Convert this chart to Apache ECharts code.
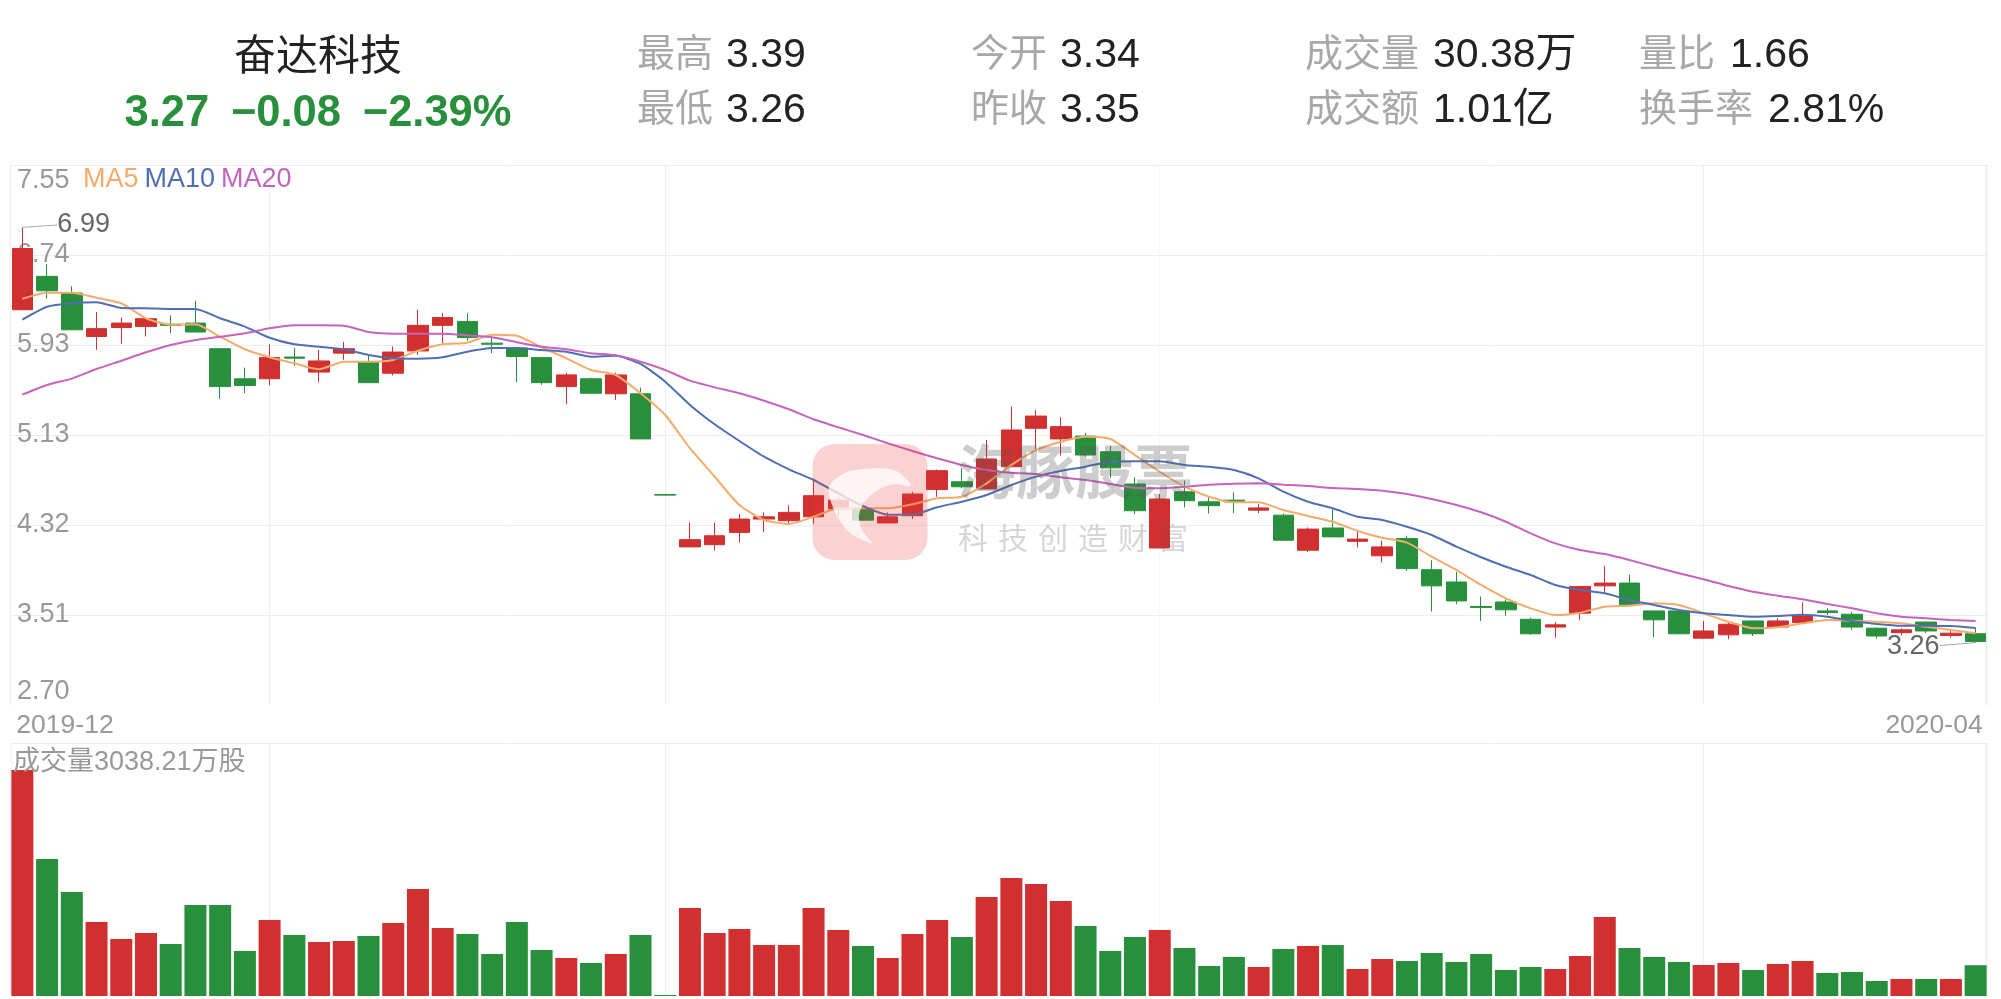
<!DOCTYPE html>
<html><head><meta charset="utf-8">
<style>html,body{margin:0;padding:0;background:#fff}#c{width:2001px;height:999px}</style>
<script src="https://cdn.jsdelivr.net/npm/echarts@6/dist/echarts.min.js"></script>
</head><body><div id="c"></div>
<script>
const categories=["2019-12-18","2019-12-19","2019-12-20","2019-12-23","2019-12-24","2019-12-25","2019-12-26","2019-12-27","2019-12-30","2019-12-31",
"2020-01-02","2020-01-03","2020-01-06","2020-01-07","2020-01-08","2020-01-09","2020-01-10","2020-01-13","2020-01-14","2020-01-15","2020-01-16","2020-01-17","2020-01-20","2020-01-21","2020-01-22","2020-01-23",
"2020-02-03","2020-02-04","2020-02-05","2020-02-06","2020-02-07","2020-02-10","2020-02-11","2020-02-12","2020-02-13","2020-02-14","2020-02-17","2020-02-18","2020-02-19","2020-02-20","2020-02-21","2020-02-24","2020-02-25","2020-02-26","2020-02-27","2020-02-28",
"2020-03-02","2020-03-03","2020-03-04","2020-03-05","2020-03-06","2020-03-09","2020-03-10","2020-03-11","2020-03-12","2020-03-13","2020-03-16","2020-03-17","2020-03-18","2020-03-19","2020-03-20","2020-03-23","2020-03-24","2020-03-25","2020-03-26","2020-03-27","2020-03-30","2020-03-31",
"2020-04-01","2020-04-02","2020-04-03","2020-04-07","2020-04-08","2020-04-09","2020-04-10","2020-04-13","2020-04-14","2020-04-15","2020-04-16","2020-04-17"];
const opens=[6.25,6.55,6.40,6.01,6.09,6.10,6.12,6.13,5.90,5.63,5.63,5.825,5.69,5.86,5.78,5.68,5.88,6.11,6.145,5.95,5.905,5.82,5.56,5.63,5.495,5.495,4.59,4.12,4.14,4.25,4.37,4.355,4.39,4.46,4.46,4.335,4.40,4.635,4.705,4.64,4.84,5.185,5.09,5.115,4.975,4.685,4.11,4.615,4.525,4.54,4.45,4.405,4.09,4.29,4.17,4.04,4.195,3.915,3.805,3.585,3.625,3.47,3.40,3.525,3.77,3.795,3.545,3.545,3.30,3.33,3.455,3.40,3.44,3.545,3.515,3.39,3.35,3.445,3.325,3.34];
const closes=[6.80,6.42,6.07,6.08,6.13,6.17,6.11,6.05,5.56,5.57,5.82,5.815,5.79,5.90,5.595,5.87,6.11,6.18,6.00,5.94,5.83,5.595,5.665,5.50,5.665,5.09,4.585,4.185,4.22,4.37,4.39,4.43,4.58,4.54,4.36,4.39,4.595,4.805,4.66,4.91,5.17,5.295,5.20,4.945,4.83,4.445,4.55,4.535,4.49,4.525,4.47,4.18,4.28,4.21,4.19,4.12,3.925,3.77,3.635,3.575,3.555,3.34,3.42,3.765,3.795,3.60,3.465,3.34,3.365,3.425,3.34,3.455,3.50,3.53,3.40,3.32,3.375,3.365,3.345,3.27];
const lows=[6.25,6.35,6.07,5.89,5.945,6.01,6.04,6.05,5.45,5.50,5.57,5.745,5.60,5.80,5.595,5.66,5.845,5.95,5.97,5.86,5.60,5.575,5.40,5.50,5.44,5.09,4.585,4.12,4.09,4.16,4.255,4.335,4.325,4.40,4.36,4.335,4.37,4.57,4.645,4.64,4.84,5.00,4.94,4.93,4.74,4.415,4.11,4.475,4.42,4.425,4.425,4.175,4.075,4.21,4.115,3.98,3.905,3.54,3.605,3.455,3.50,3.33,3.305,3.465,3.71,3.60,3.31,3.335,3.295,3.29,3.32,3.40,3.44,3.51,3.375,3.295,3.325,3.345,3.305,3.26];
const highs=[6.99,6.66,6.46,6.23,6.18,6.17,6.20,6.33,5.90,5.73,5.94,5.91,5.89,5.96,5.845,5.92,6.25,6.22,6.22,6.01,5.91,5.82,5.685,5.64,5.685,5.55,4.59,4.34,4.335,4.415,4.43,4.495,4.735,4.565,4.525,4.43,4.615,4.815,4.825,5.08,5.38,5.35,5.285,5.145,5.025,4.745,4.595,4.715,4.57,4.61,4.505,4.42,4.295,4.47,4.265,4.175,4.22,4.00,3.895,3.675,3.65,3.485,3.445,3.77,3.95,3.87,3.545,3.55,3.455,3.44,3.455,3.48,3.62,3.57,3.535,3.395,3.39,3.45,3.365,3.39];
const ma5=[6.349,6.403,6.403,6.358,6.308,6.173,6.116,6.119,6.008,5.895,5.823,5.769,5.715,5.783,5.783,5.799,5.882,5.940,5.954,6.026,6.017,5.913,5.814,5.709,5.664,5.500,5.305,5.006,4.751,4.496,4.362,4.326,4.391,4.467,4.467,4.467,4.503,4.557,4.571,4.691,4.856,4.990,5.065,5.110,5.089,4.945,4.795,4.661,4.571,4.521,4.521,4.451,4.398,4.346,4.263,4.203,4.158,4.032,3.913,3.778,3.658,3.569,3.508,3.529,3.583,3.592,3.613,3.598,3.524,3.448,3.389,3.398,3.434,3.463,3.457,3.448,3.434,3.403,3.374,3.344];
const ma10=[6.161,6.277,6.308,6.317,6.266,6.263,6.257,6.257,6.173,6.098,5.999,5.940,5.918,5.895,5.844,5.814,5.810,5.823,5.873,5.906,5.906,5.888,5.873,5.828,5.837,5.763,5.604,5.395,5.221,5.071,4.930,4.817,4.721,4.601,4.487,4.409,4.409,4.476,4.526,4.586,4.676,4.751,4.802,4.840,4.885,4.889,4.889,4.856,4.840,4.811,4.736,4.616,4.526,4.467,4.391,4.362,4.301,4.227,4.122,4.027,3.942,3.868,3.778,3.733,3.703,3.643,3.598,3.553,3.524,3.508,3.493,3.499,3.511,3.493,3.454,3.428,3.412,3.412,3.410,3.392];
const ma20=[5.487,5.574,5.631,5.718,5.792,5.868,5.933,5.978,6.008,6.038,6.083,6.110,6.110,6.107,6.050,6.035,6.035,6.035,6.021,6.003,5.958,5.918,5.895,5.859,5.841,5.783,5.709,5.613,5.553,5.500,5.433,5.356,5.266,5.194,5.125,5.051,4.981,4.916,4.856,4.811,4.786,4.775,4.745,4.721,4.685,4.652,4.646,4.661,4.679,4.688,4.691,4.679,4.667,4.649,4.640,4.625,4.595,4.550,4.496,4.431,4.346,4.242,4.152,4.092,4.056,4.002,3.942,3.883,3.829,3.769,3.718,3.682,3.649,3.607,3.569,3.524,3.493,3.479,3.463,3.454];
const volumes=[22333,13538,10277,7313,5633,6226,5139,8993,8993,4447,7510,6028,5336,5435,5929,7214,10574,6720,6127,4150,7313,4546,3755,3261,4150,6028,99,8696,6226,6621,5040,5040,8696,6522,4941,3755,6127,7510,5830,9783,11661,11068,9388,6917,4447,5830,6522,4743,2965,3854,2866,4645,4941,5040,2668,3656,3459,4249,3360,4150,2569,2866,2668,3953,7807,4743,3854,3360,3063,3261,2569,3162,3459,2273,2372,1482,1680,1680,1680,3038.21];
const priceTicks=[2.7,3.5083,4.3167,5.125,5.9333,6.7417,7.55];
const stockName="奋达科技";
const quote="3.27\u2002−0.08\u2002−2.39%";
const statLabels=["最高","最低","今开","昨收","成交量","成交额","量比","换手率"];
const statValues=["3.39","3.26","3.34","3.35","30.38万","1.01亿","1.66","2.81%"];
const volumeTitle="成交量3038.21万股";
const RED='#d13030',GREEN='#288f3c';
const MA_COLORS={MA5:'#f5ab6b',MA10:'#4f6fb5',MA20:'#c563bd'};
const FONT='"Liberation Sans","Noto Sans CJK SC",sans-serif';
const GRIDLINE='#eeeeee';

const statLabelX=[637,637,971,971,1305,1305,1639,1639];
const statValueX=[726,726,1060,1060,1433,1433,1730,1768];
const statY=[56,111,56,111,56,111,56,111];
const graphics=[];
function txt(x,y,text,size,color,extra){graphics.push({type:'text',x,y,z:50,silent:true,style:Object.assign({text,fill:color,font:size+'px '+FONT,textAlign:'left',textVerticalAlign:'middle'},extra||{})});}
txt(318,58,stockName,42,'#222',{textAlign:'center'});
graphics.push({type:'text',x:318,y:114,z:50,silent:true,style:{text:quote,fill:GREEN,font:'bold 43.5px '+FONT,textAlign:'center',textVerticalAlign:'middle'}});
statLabels.forEach((t,i)=>{txt(statLabelX[i],statY[i],t,38,'#a8a8a8');txt(statValueX[i],statY[i],statValues[i],41,'#222');});
txt(13,763,volumeTitle,27,'#999');
// frame lines
graphics.push({type:'line',z:1,silent:true,shape:{x1:1986.5,y1:165,x2:1986.5,y2:705},style:{stroke:GRIDLINE,lineWidth:2}});
graphics.push({type:'line',z:1,silent:true,shape:{x1:1986.5,y1:743,x2:1986.5,y2:996},style:{stroke:GRIDLINE,lineWidth:2}});
graphics.push({type:'line',z:1,silent:true,shape:{x1:11,y1:743,x2:11,y2:996},style:{stroke:GRIDLINE,lineWidth:1}});
// watermark
graphics.push({type:'rect',z:40,silent:true,shape:{x:812.5,y:444,width:115,height:116,r:22},style:{fill:'rgba(235,60,60,0.23)'}});
graphics.push({type:'polygon',z:41,silent:true,shape:{points:[[829,487],[845,473],[865,469],[890,469],[901,474],[911,486],[895,484],[878,490],[866,500],[859,515],[862,530],[872,543],[850,533],[835,512]],smooth:0.3},style:{fill:'rgba(255,255,255,0.75)'}});
graphics.push({type:'text',x:1075,y:478,z:41,silent:true,style:{text:'海豚股票',fill:'rgba(90,90,90,0.3)',font:'bold 59px '+FONT,textAlign:'center',textVerticalAlign:'middle'}});
graphics.push({type:'text',x:1073,y:541,z:41,silent:true,style:{text:'科\u2004技\u2004创\u2004造\u2004财\u2004富',fill:'rgba(90,90,90,0.25)',font:'30px '+FONT,textAlign:'center',textVerticalAlign:'middle'}});

const monthStart=i=>i>0&&categories[i].slice(0,7)!==categories[i-1].slice(0,7);
const splitX={show:true,alignWithLabel:true,interval:(i)=>monthStart(i),lineStyle:{color:[GRIDLINE,GRIDLINE,'#f8f8f8',GRIDLINE],width:1}};
const last=categories.length-1;
const lineSeries=(name,data)=>({name,type:'line',data,xAxisIndex:0,yAxisIndex:0,smooth:0.2,showSymbol:false,symbol:'none',silent:true,z:5,lineStyle:{color:MA_COLORS[name],width:2},itemStyle:{color:MA_COLORS[name]}});
const option={
 animation:false,backgroundColor:'#fff',textStyle:{fontFamily:FONT},
 legend:{left:78,top:166,padding:0,icon:'none',itemWidth:0,itemHeight:27,itemGap:1,selectedMode:false,
   data:Object.keys(MA_COLORS).map(n=>({name:n,textStyle:{color:MA_COLORS[n],fontSize:27,fontFamily:FONT}}))},
 grid:[{left:10,width:1978,top:165,height:540,show:false},{left:10,width:1978,top:743,height:253,show:false}],
 xAxis:[
  {type:'category',gridIndex:0,data:categories,boundaryGap:true,axisLine:{show:false},axisTick:{show:false},splitLine:splitX,
   axisLabel:{show:true,interval:(i)=>i===0||i===last,showMinLabel:true,showMaxLabel:true,alignMinLabel:'left',alignMaxLabel:'right',color:'#999',fontSize:26.5,fontFamily:FONT,margin:7,padding:[0,-7,0,-6],
     formatter:v=>v.slice(0,7)}},
  {type:'category',gridIndex:1,data:categories,boundaryGap:true,axisLine:{show:false},axisTick:{show:false},splitLine:splitX,axisLabel:{show:false}}
 ],
 yAxis:[
  {type:'value',gridIndex:0,min:2.7,max:7.55,scale:true,axisLine:{show:true,lineStyle:{color:GRIDLINE}},
   axisTick:{show:false,customValues:priceTicks},splitLine:{show:true,showMinLine:false,lineStyle:{color:GRIDLINE,width:1}},
   axisLabel:{show:true,inside:true,margin:7,customValues:priceTicks,color:'#999',fontSize:27,fontFamily:FONT,verticalAlignMinLabel:'bottom',verticalAlignMaxLabel:'top',padding:[2,0,0,0],formatter:v=>v.toFixed(2)}},
  {type:'value',gridIndex:1,min:0,max:25000,axisLine:{show:false},axisTick:{show:false,customValues:[25000]},splitLine:{show:true,lineStyle:{color:GRIDLINE,width:1}},axisLabel:{show:false}}
 ],
 series:[
  {name:'K',type:'candlestick',xAxisIndex:0,yAxisIndex:0,barWidth:21,z:3,silent:true,
   data:categories.map((c,i)=>[opens[i],closes[i],lows[i],highs[i]]),
   itemStyle:{color:RED,color0:GREEN,borderColor:RED,borderColor0:GREEN,borderWidth:1},
   markPoint:{silent:true,symbol:'circle',symbolSize:0,animation:false,data:[
     {coord:[categories[0],Math.max(...highs)],value:Math.max(...highs),label:{show:true,formatter:v=>v.value.toFixed(2),position:'right',distance:35,offset:[0,-3],color:'#666',fontSize:27,fontFamily:FONT}},
     {coord:[categories[last],Math.min(...lows)],value:Math.min(...lows),label:{show:true,formatter:v=>v.value.toFixed(2),position:'left',distance:37,offset:[1,4],color:'#666',fontSize:27,fontFamily:FONT}}
   ]},
   markLine:{silent:true,symbol:'none',animation:false,label:{show:false},lineStyle:{color:'#aaa',width:1,type:'solid'},data:[
     [{coord:[categories[0],Math.max(...highs)]},{x:57,y:225}],
     [{coord:[categories[last],Math.min(...lows)]},{x:1940,y:645.5}]
   ]}},
  lineSeries('MA5',ma5),lineSeries('MA10',ma10),lineSeries('MA20',ma20),
  {name:'VOL',type:'bar',xAxisIndex:1,yAxisIndex:1,barWidth:22,silent:true,
   data:volumes.map((v,i)=>({value:v,itemStyle:{color:closes[i]>=opens[i]?RED:GREEN}}))}
 ],
 graphic:{elements:graphics}
};
echarts.init(document.getElementById('c'),null,{renderer:'canvas'}).setOption(option);
</script></body></html>
